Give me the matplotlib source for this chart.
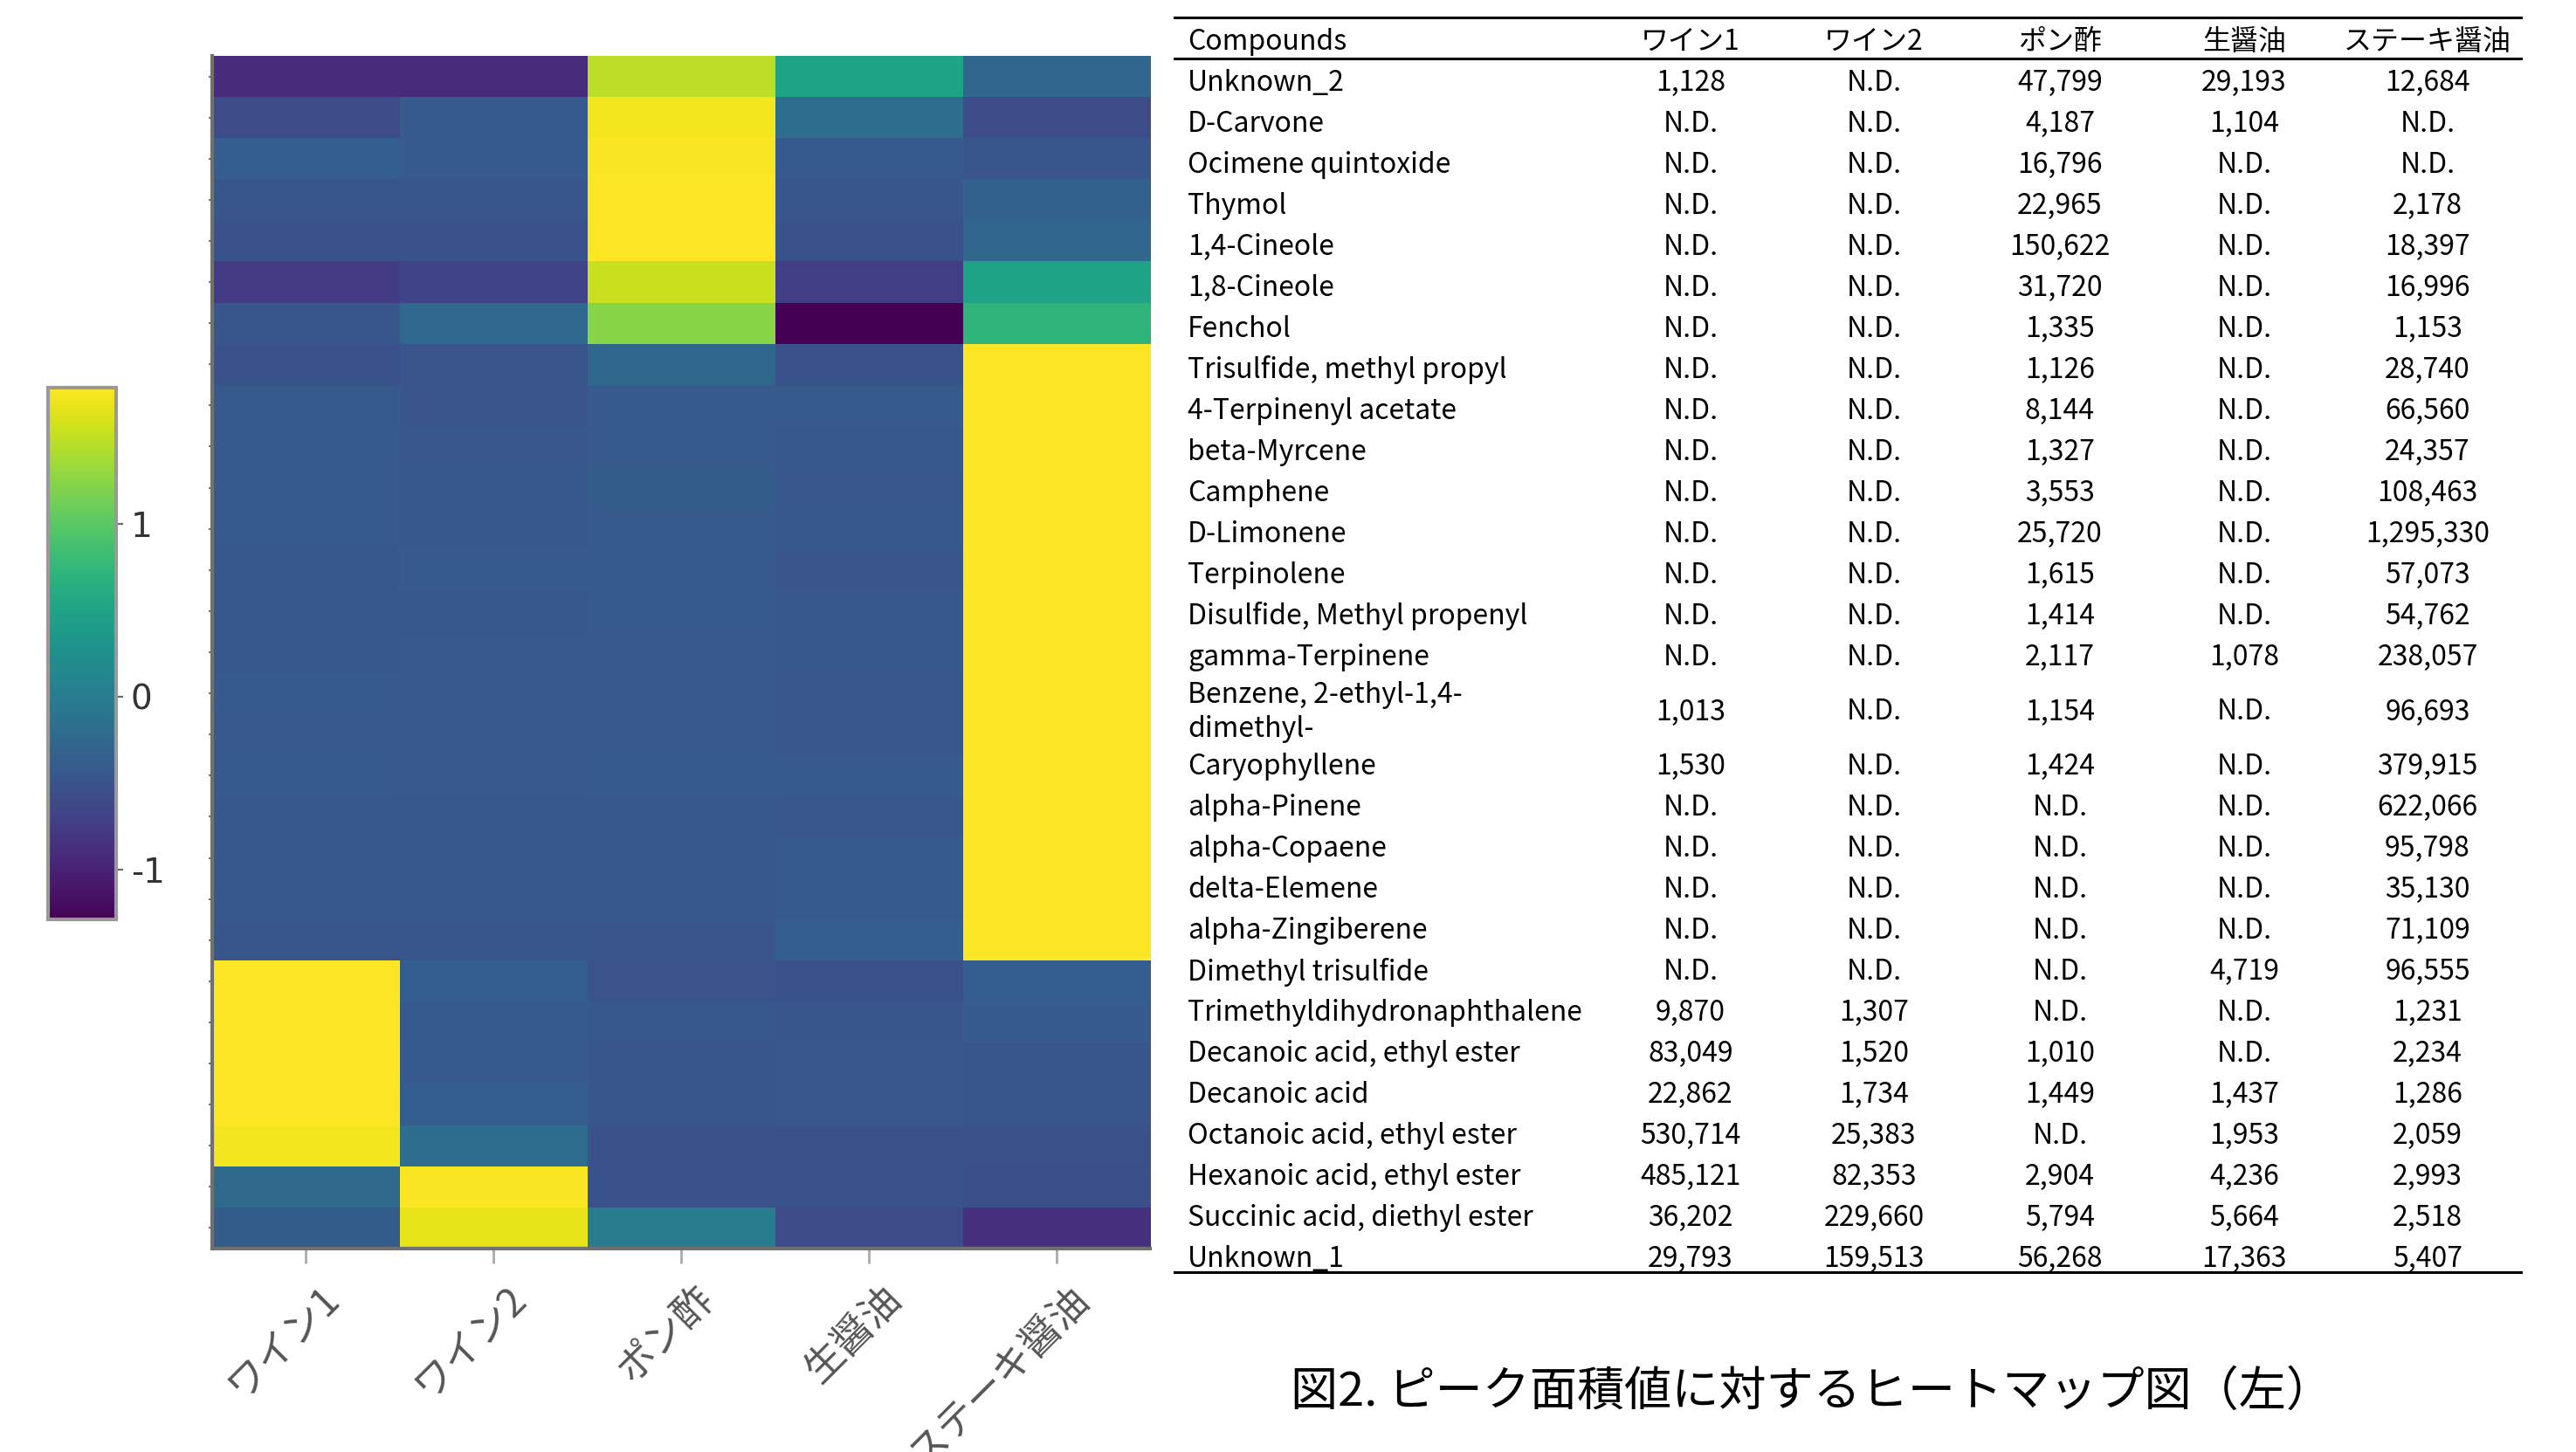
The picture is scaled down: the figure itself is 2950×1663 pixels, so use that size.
import numpy as np
import matplotlib
matplotlib.use('Agg')
import matplotlib.pyplot as plt
from matplotlib.transforms import offset_copy

plt.rcParams['font.family'] = ['Noto Sans CJK JP', 'DejaVu Sans']
plt.rcParams['axes.unicode_minus'] = False

# Samples (columns)
samples = ['ワイン1', 'ワイン2', 'ポン酢', '生醤油', 'ステーキ醤油']

# Compounds (rows, top to bottom)
compounds = [
    'Unknown_2', 'D-Carvone', 'Ocimene quintoxide', 'Thymol', '1,4-Cineole',
    '1,8-Cineole', 'Fenchol', 'Trisulfide, methyl propyl', '4-Terpinenyl acetate',
    'beta-Myrcene', 'Camphene', 'D-Limonene', 'Terpinolene',
    'Disulfide, Methyl propenyl', 'gamma-Terpinene',
    'Benzene, 2-ethyl-1,4-\ndimethyl-', 'Caryophyllene', 'alpha-Pinene',
    'alpha-Copaene', 'delta-Elemene', 'alpha-Zingiberene', 'Dimethyl trisulfide',
    'Trimethyldihydronaphthalene', 'Decanoic acid, ethyl ester', 'Decanoic acid',
    'Octanoic acid, ethyl ester', 'Hexanoic acid, ethyl ester',
    'Succinic acid, diethyl ester', 'Unknown_1',
]

# Peak areas per sample (None = N.D.)
wine1 = [1128, None, None, None, None, None, None, None, None, None, None, None, None,
         None, None, 1013, 1530, None, None, None, None, None, 9870, 83049, 22862,
         530714, 485121, 36202, 29793]
wine2 = [None, None, None, None, None, None, None, None, None, None, None, None, None,
         None, None, None, None, None, None, None, None, None, 1307, 1520, 1734,
         25383, 82353, 229660, 159513]
ponzu = [47799, 4187, 16796, 22965, 150622, 31720, 1335, 1126, 8144, 1327, 3553,
         25720, 1615, 1414, 2117, 1154, 1424, None, None, None, None, None, None,
         1010, 1449, None, 2904, 5794, 56268]
nama_shoyu = [29193, 1104, None, None, None, None, None, None, None, None, None,
              None, None, None, 1078, None, None, None, None, None, None, 4719, None,
              None, 1437, 1953, 4236, 5664, 17363]
steak_shoyu = [12684, None, None, 2178, 18397, 16996, 1153, 28740, 66560, 24357,
               108463, 1295330, 57073, 54762, 238057, 96693, 379915, 622066, 95798,
               35130, 71109, 96555, 1231, 2234, 1286, 2059, 2993, 2518, 5407]

# Heatmap values (row-scaled)
heat = np.array([
    [-0.90, -0.92, 1.48, 0.50, -0.27],
    [-0.58, -0.40, 1.73, -0.18, -0.58],
    [-0.37, -0.40, 1.77, -0.42, -0.46],
    [-0.46, -0.46, 1.78, -0.47, -0.33],
    [-0.52, -0.52, 1.78, -0.52, -0.27],
    [-0.74, -0.67, 1.54, -0.72, 0.50],
    [-0.46, -0.24, 1.24, -1.29, 0.71],
    [-0.52, -0.48, -0.25, -0.52, 1.78],
    [-0.42, -0.48, -0.40, -0.42, 1.78],
    [-0.42, -0.45, -0.40, -0.44, 1.78],
    [-0.42, -0.44, -0.38, -0.45, 1.78],
    [-0.42, -0.44, -0.40, -0.44, 1.78],
    [-0.44, -0.41, -0.40, -0.48, 1.78],
    [-0.44, -0.44, -0.42, -0.44, 1.78],
    [-0.44, -0.43, -0.43, -0.44, 1.78],
    [-0.41, -0.43, -0.43, -0.45, 1.78],
    [-0.43, -0.43, -0.43, -0.45, 1.78],
    [-0.42, -0.43, -0.42, -0.41, 1.78],
    [-0.44, -0.44, -0.44, -0.45, 1.78],
    [-0.44, -0.44, -0.44, -0.42, 1.78],
    [-0.44, -0.44, -0.44, -0.42, 1.78],
    [-0.46, -0.46, -0.48, -0.37, 1.78],
    [1.78, -0.37, -0.50, -0.52, -0.37],
    [1.78, -0.42, -0.44, -0.46, -0.40],
    [1.78, -0.41, -0.46, -0.45, -0.46],
    [1.78, -0.37, -0.47, -0.45, -0.46],
    [1.73, -0.18, -0.53, -0.53, -0.53],
    [-0.23, 1.77, -0.52, -0.52, -0.54],
    [-0.38, 1.67, 0.00, -0.58, -0.86],
])

caption = '図2. ピーク面積値に対するヒートマップ図（左）'

W, H = 2950, 1663
fig = plt.figure(figsize=(W / 100, H / 100), dpi=100)


def fx(x):
    return x / W


def fy(y):
    return 1 - y / H


# ---- heatmap ----
ax = fig.add_axes([fx(243), fy(1430), fx(1317) - fx(243), fy(64) - fy(1430)])
im = ax.imshow(heat, cmap='viridis', vmin=-1.29, vmax=1.79, aspect='auto',
               interpolation='nearest')
ax.set_xlim(-0.5, 4.5)
ax.set_ylim(len(compounds) - 0.5, -0.5)
for s in ['top', 'right']:
    ax.spines[s].set_visible(False)
for s in ['left', 'bottom']:
    ax.spines[s].set_color('#707070')
    ax.spines[s].set_linewidth(3)
ax.set_yticks(range(len(compounds)))
ax.set_yticklabels([])
ax.tick_params(axis='y', length=3, width=1.5, color='#707070')
ax.set_xticks(range(len(samples)))
ax.set_xticklabels([])
ax.tick_params(axis='x', length=12, width=2, color='#aaaaaa')

lab_tr = offset_copy(ax.get_xaxis_transform(), fig=fig, x=14, y=-34, units='dots')
for i, s in enumerate(samples):
    ax.text(i, 0, s, transform=lab_tr, rotation=45, rotation_mode='anchor',
            ha='right', va='top', fontsize=32.5, color='#555555')

# ---- colorbar ----
cax = fig.add_axes([fx(55), fy(1053), fx(133) - fx(55), fy(444) - fy(1053)])
cb = fig.colorbar(im, cax=cax)
cb.outline.set_edgecolor('#999999')
cb.outline.set_linewidth(3)
cb.set_ticks([-1, 0, 1])
cb.set_ticklabels(['-1', '0', '1'])
cax.tick_params(length=6, width=1.5, color='#666666', labelsize=28,
                labelcolor='#333333', pad=6)
for t in cax.get_yticklabels():
    t.set_fontfamily('DejaVu Sans')

# ---- table ----
x_left, x_right = 1345, 2887
name_x = 1360
col_x = [1936, 2146, 2359, 2570, 2780]
fs = 23

for yl in [20, 67, 1457]:
    fig.add_artist(plt.Line2D([fx(x_left), fx(x_right)], [fy(yl), fy(yl)],
                              color='black', lw=2.2))

fig.text(fx(name_x), fy(48), 'Compounds', ha='left', va='center', fontsize=fs)
for cx, s in zip(col_x, samples):
    fig.text(fx(cx), fy(48), s, ha='center', va='center', fontsize=fs)

columns = [wine1, wine2, ponzu, nama_shoyu, steak_shoyu]
y = 95
prev_h = None
for r, name in enumerate(compounds):
    h = 78 if '\n' in name else 47
    if prev_h is not None:
        y += (prev_h + h) / 2
    prev_h = h
    fig.text(fx(name_x), fy(y), name, ha='left', va='center', fontsize=fs,
             linespacing=1.25)
    for cx, col in zip(col_x, columns):
        v = col[r]
        txt = 'N.D.' if v is None else f'{v:,}'
        fig.text(fx(cx), fy(y), txt, ha='center', va='center', fontsize=fs)

fig.text(fx(2075), fy(1594), caption, ha='center', va='center', fontsize=39)

fig.savefig('out.png', dpi=100, facecolor='white')
